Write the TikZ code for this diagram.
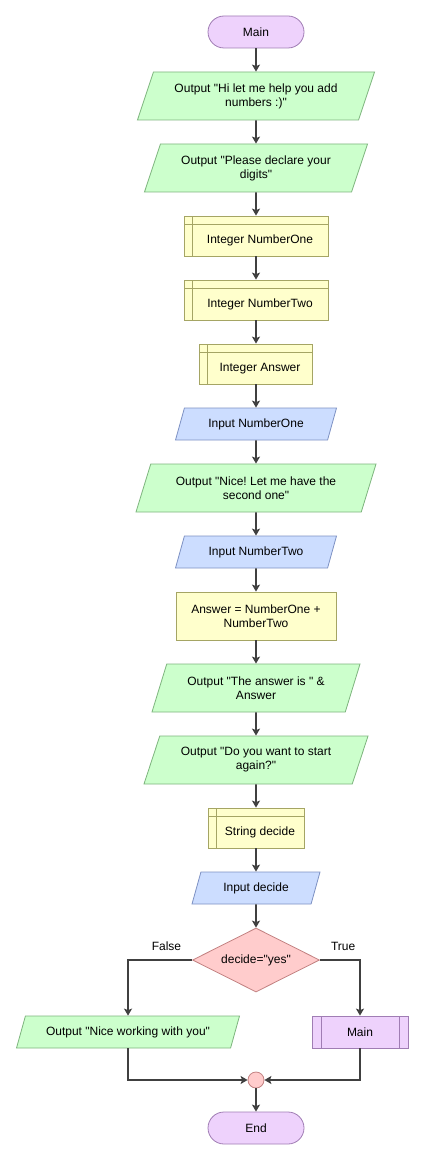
\documentclass[tikz,border=0pt]{standalone}
\usepackage{xcolor}
\usepackage{fontspec}
\newfontfamily\flowfont{Liberation Sans}
\usetikzlibrary{shapes.geometric,arrows.meta,positioning}
\frenchspacing

\definecolor{termfill}{RGB}{238,210,252}
\definecolor{termdraw}{RGB}{160,125,180}
\definecolor{outfill}{RGB}{204,255,204}
\definecolor{outdraw}{RGB}{125,180,125}
\definecolor{infill}{RGB}{204,221,255}
\definecolor{indraw}{RGB}{125,145,195}
\definecolor{declfill}{RGB}{255,255,204}
\definecolor{decldraw}{RGB}{165,165,100}
\definecolor{decfill}{RGB}{255,204,204}
\definecolor{decdraw}{RGB}{195,130,130}
\definecolor{flowcol}{RGB}{64,64,64}

\begin{document}
\begin{tikzpicture}[x=1pt,y=1pt,
    every node/.style={font=\flowfont\fontsize{12}{14}\selectfont\frenchspacing,text=black},
    >={Stealth[length=7pt,width=8pt,inset=1.5pt]},
    flow/.style={->,line width=1.8pt,draw=flowcol},
    term/.style={draw=termdraw,fill=termfill,line width=0.8pt,rounded corners=16pt,minimum width=96pt,minimum height=32pt},
    io/.style={trapezium,trapezium left angle=63.43,trapezium right angle=116.57,trapezium stretches body,align=center,line width=0.8pt,inner xsep=2pt},
    outbox/.style={io,draw=outdraw,fill=outfill,minimum height=48pt},
    inbox/.style={io,draw=indraw,fill=infill,minimum height=32pt},
    declbox/.style={draw=decldraw,fill=declfill,line width=0.8pt,minimum height=40pt,text height=17pt,text depth=3pt,
        execute at begin node={\hspace*{8pt}},
        path picture={\draw [decldraw,line width=0.8pt]
            ([xshift=8pt]path picture bounding box.north west) -- ([xshift=8pt]path picture bounding box.south west)
            ([yshift=-8pt]path picture bounding box.north west) -- ([yshift=-8pt]path picture bounding box.north east);}},
    procbox/.style={draw=decldraw,fill=declfill,line width=0.8pt,align=center,minimum width=160pt,minimum height=48pt},
    decbox/.style={diamond,aspect=2,inner sep=1pt,draw=decdraw,fill=decfill,line width=0.8pt,minimum width=127pt,minimum height=64pt},
    callbox/.style={draw=termdraw,fill=termfill,line width=0.8pt,minimum width=96pt,minimum height=32pt,
        path picture={\draw [termdraw,line width=0.8pt]
            ([xshift=9pt]path picture bounding box.north west) -- ([xshift=9pt]path picture bounding box.south west)
            ([xshift=-9pt]path picture bounding box.north east) -- ([xshift=-9pt]path picture bounding box.south east);}},
    joinpt/.style={circle,draw=decdraw,fill=decfill,line width=0.8pt,minimum size=16pt,inner sep=0pt}
    ]
    \useasboundingbox (0,0) rectangle (431,-1161);
    \path
        (256,-32)    node [term]  (main) {Main}
     ++ (0,-64)   node [outbox,minimum width=237pt]  (out1) {Output "Hi let me help you add\\numbers :)"}
     ++ (0,-72)   node [outbox,minimum width=223pt]  (out2) {Output "Please declare your\\digits"}
     ++ (0,-68)   node [declbox,minimum width=144pt]  (numone) {Integer NumberOne}
     ++ (0,-64)   node [declbox,minimum width=144pt]  (numtwo) {Integer NumberTwo}
     ++ (0,-64)   node [declbox,minimum width=113pt]  (answer) {Integer Answer}
     ++ (0,-60)   node [inbox,minimum width=161pt]  (inone) {Input NumberOne}
     ++ (0,-64)   node [outbox,minimum width=240pt]  (out3) {Output "Nice! Let me have the\\second one"}
     ++ (0,-64)   node [inbox,minimum width=161pt]  (intwo) {Input NumberTwo}
     ++ (0,-64)   node [procbox]  (sum) {Answer = NumberOne +\\NumberTwo}
     ++ (0,-72)   node [outbox,minimum width=208pt]  (out4) {Output "The answer is " \&\\Answer}
     ++ (0,-72)   node [outbox,minimum width=224pt]  (out5) {Output "Do you want to start\\again?"}
     ++ (0,-68)   node [declbox,minimum width=96pt]  (strdecide) {String decide}
     ++ (0,-60)   node [inbox,minimum width=128pt]  (indecide) {Input decide}
     ++ (0,-72)   node [decbox]  (test) {decide="yes"}
      + (-128,-72) node [outbox,minimum height=32pt,minimum width=223pt]  (out6) {Output "Nice working with you"}
      + (104,-72) node [callbox]  (again) {Main}
     ++ (0,-120)  node [joinpt]  (join) {}
     ++ (0,-48)   node [term]  (end) {End}
     ;
    \draw [flow] (main) -- (out1);
    \draw [flow] (out1) -- (out2);
    \draw [flow] (out2) -- (numone);
    \draw [flow] (numone) -- (numtwo);
    \draw [flow] (numtwo) -- (answer);
    \draw [flow] (answer) -- (inone);
    \draw [flow] (inone) -- (out3);
    \draw [flow] (out3) -- (intwo);
    \draw [flow] (intwo) -- (sum);
    \draw [flow] (sum) -- (out4);
    \draw [flow] (out4) -- (out5);
    \draw [flow] (out5) -- (strdecide);
    \draw [flow] (strdecide) -- (indecide);
    \draw [flow] (indecide) -- (test);
    \draw [flow] (test.west) -| node [above=5pt,pos=.2] (nolabel) {False} (out6.north);
    \draw [flow] (test.east) -| node [above=5pt,pos=.29] (yeslabel) {True} (again.north);
    \draw [flow] (out6.south) |- (join.west);
    \draw [flow] (again.south) |- (join.east);
    \draw [flow] (join) -- (end);
    \end{tikzpicture}
\end{document}
